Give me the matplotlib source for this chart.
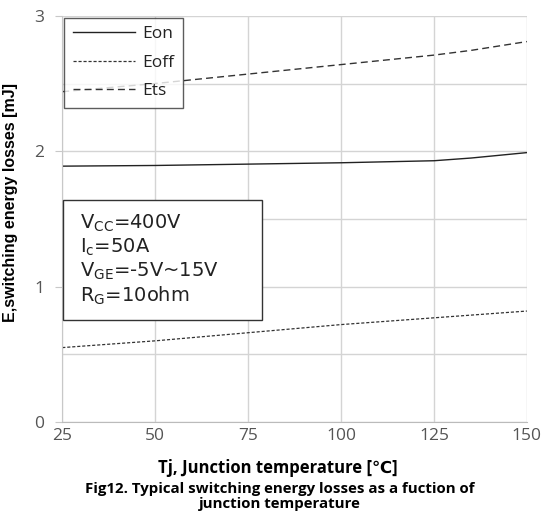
import matplotlib
matplotlib.use("Agg")
import matplotlib.pyplot as plt
from matplotlib.patches import Rectangle

# junction temperature [C]
tj = [25, 50, 75, 100, 125, 135, 150]
eon = [1.89, 1.895, 1.905, 1.915, 1.93, 1.95, 1.99]
eoff = [0.55, 0.60, 0.66, 0.72, 0.77, 0.79, 0.82]
ets = [2.44, 2.50, 2.57, 2.64, 2.71, 2.745, 2.81]

x_ticks = [25, 50, 75, 100, 125, 150]
y_ticks = [0, 1, 2, 3]

conditions = [
    r"V$_{\mathregular{CC}}$=400V",
    r"I$_{\mathregular{c}}$=50A",
    r"V$_{\mathregular{GE}}$=-5V~15V",
    r"R$_{\mathregular{G}}$=10ohm",
]

plt.rcParams["font.family"] = ["Open Sans", "DejaVu Sans"]

fig = plt.figure(figsize=(5.46, 5.11), dpi=100)
ax = fig.add_axes([0.114, 0.174, 0.851, 0.795])

ax.plot(tj, eon, color="#222222", lw=1.0, label="Eon")
ax.plot(tj, eoff, color="#333333", lw=0.9, ls=(0, (2.5, 1.5)), label="Eoff")
ax.plot(tj, ets, color="#333333", lw=1.0, ls=(0, (5, 3)), label="Ets")

ax.set_xlim(25, 150)
ax.set_ylim(0, 3)
ax.set_xticks(x_ticks)
ax.set_yticks(y_ticks)
ax.set_yticks([0.5, 1.5, 2.5], minor=True)
ax.grid(True, which="both", color="#d4d4d4", lw=1.0)
ax.set_axisbelow(True)
for s in ["top", "right"]:
    ax.spines[s].set_visible(False)
ax.spines["left"].set_color("#c8c8c8")
ax.spines["bottom"].set_color("#bbbbbb")
ax.tick_params(axis="y", which="major", length=5, color="#c8c8c8", labelsize=12.5,
               labelcolor="#555555", pad=8)
ax.tick_params(axis="y", which="minor", length=0)
ax.tick_params(axis="x", length=0, labelsize=12.5, labelcolor="#555555", pad=4)

fig.text(0.508, 0.084, "Tj, Junction temperature [\u2103]", ha="center", va="center",
         fontsize=12, fontweight="bold")
ax.set_ylabel("E,switching energy losses [mJ]", fontsize=11.5, fontweight="bold",
              family=["Liberation Sans", "DejaVu Sans"])
ax.yaxis.set_label_coords(-0.095, 0.54)

leg = ax.legend(loc="upper left", bbox_to_anchor=(0.0, 1.0), frameon=True,
                fancybox=False, edgecolor="#333333", fontsize=12.5,
                handlelength=3.6, labelspacing=0.7, borderaxespad=0.1,
                borderpad=0.5, handletextpad=0.4)
leg.get_frame().set_linewidth(1.0)
for t in leg.get_texts():
    t.set_color("#222222")

# operating conditions box
ax.add_patch(Rectangle((0.002, 0.251), 0.428, 0.296, transform=ax.transAxes,
                       fc="white", ec="#333333", lw=1.0, zorder=5))
for i, line in enumerate(conditions):
    ax.text(0.038, 0.488 - i * 0.059, line, transform=ax.transAxes, fontsize=14,
            family=["DejaVu Sans"], va="center", ha="left", color="#222222", zorder=6)

fig.text(0.513, 0.029, "Fig12. Typical switching energy losses as a fuction of\njunction temperature",
         ha="center", va="center", fontsize=10.8, fontweight="bold", linespacing=1.12)

fig.savefig("out.png", dpi=100)
